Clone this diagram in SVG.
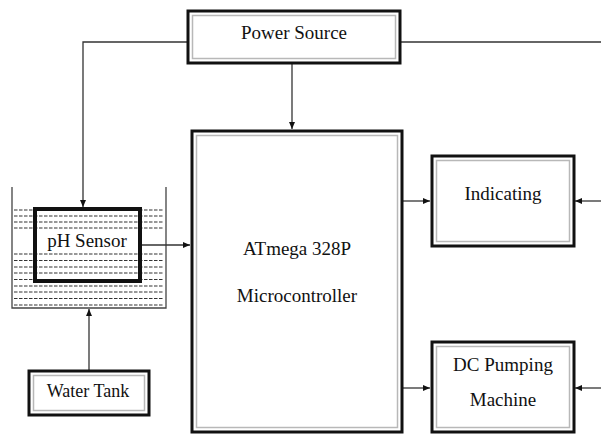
<svg xmlns="http://www.w3.org/2000/svg" width="601" height="441" viewBox="0 0 601 441">
<style>
.t{font-family:'Liberation Serif', serif;font-size:19px;fill:#111;text-anchor:middle}
.outer{fill:#fff;stroke:#111;stroke-width:3}
.inner{fill:none;stroke:#b8b8b8;stroke-width:1.5}
.conn{fill:none;stroke:#333;stroke-width:1.3}
.dash{stroke:#333;stroke-width:1.2;stroke-dasharray:3.5 1.5}
.tank{fill:none;stroke:#444;stroke-width:1.3}
</style>
<defs>
<marker id="ah" markerWidth="8" markerHeight="8" refX="7" refY="4" orient="auto" markerUnits="userSpaceOnUse">
<path d="M0,1 L7,4 L0,7 Z" fill="#111"/>
</marker>
</defs>
<rect width="601" height="441" fill="#fff"/>
<g id="tank">
<path class="tank" d="M12,187 V308 H166 V187"/>
<g class="dash">
<line x1="14" y1="210" x2="164" y2="210"/>
<line x1="14" y1="216" x2="164" y2="216"/>
<line x1="14" y1="222" x2="164" y2="222"/>
<line x1="14" y1="228" x2="164" y2="228"/>
<line x1="14" y1="254" x2="164" y2="254"/>
<line x1="14" y1="260.5" x2="164" y2="260.5"/>
<line x1="14" y1="267" x2="164" y2="267"/>
<line x1="14" y1="273" x2="164" y2="273"/>
<line x1="14" y1="279.5" x2="164" y2="279.5"/>
<line x1="14" y1="286" x2="164" y2="286"/>
<line x1="14" y1="292" x2="164" y2="292"/>
<line x1="14" y1="298.5" x2="164" y2="298.5"/>
<line x1="14" y1="305" x2="164" y2="305"/>
</g>
</g>
<g id="connectors">
<path class="conn" d="M187,42 H83 V207" marker-end="url(#ah)"/>
<path class="conn" d="M400,42 H601"/>
<path class="conn" d="M292,63 V129" marker-end="url(#ah)"/>
<path class="conn" d="M141,245 H190" marker-end="url(#ah)"/>
<path class="conn" d="M403,201 H430" marker-end="url(#ah)"/>
<path class="conn" d="M601,201 H575" marker-end="url(#ah)"/>
<path class="conn" d="M403,388 H430" marker-end="url(#ah)"/>
<path class="conn" d="M601,388 H575" marker-end="url(#ah)"/>
<path class="conn" d="M89,370 V309" marker-end="url(#ah)"/>
</g>
<g id="power">
<rect class="outer" x="188" y="11" width="212" height="52"/>
<rect class="inner" x="192.5" y="15.5" width="203" height="43"/>
<text class="t" font-family="Liberation Serif" x="294" y="39">Power Source</text>
</g>
<g id="micro">
<rect class="outer" x="192" y="131" width="210" height="301"/>
<rect class="inner" x="196.5" y="135.5" width="201" height="292"/>
<text class="t" font-family="Liberation Serif" x="297" y="255">ATmega 328P</text>
<text class="t" font-family="Liberation Serif" x="297" y="302">Microcontroller</text>
</g>
<g id="ph">
<rect x="35" y="209" width="105" height="72" fill="none" stroke="#111" stroke-width="4"/>
<text class="t" font-family="Liberation Serif" x="87" y="247">pH Sensor</text>
</g>
<g id="indicating">
<rect class="outer" x="432" y="156" width="142" height="90"/>
<rect class="inner" x="436.5" y="160.5" width="133" height="81"/>
<text class="t" font-family="Liberation Serif" x="503" y="200">Indicating</text>
</g>
<g id="pump">
<rect class="outer" x="432" y="342" width="142" height="90"/>
<rect class="inner" x="436.5" y="346.5" width="133" height="81"/>
<text class="t" font-family="Liberation Serif" x="503" y="371">DC Pumping</text>
<text class="t" font-family="Liberation Serif" x="503" y="406">Machine</text>
</g>
<g id="water">
<rect class="outer" x="29" y="371" width="120" height="44"/>
<rect class="inner" x="33.5" y="375.5" width="111" height="35"/>
<text class="t" font-family="Liberation Serif" x="88" y="397" style="font-size:18px">Water Tank</text>
</g>
</svg>
